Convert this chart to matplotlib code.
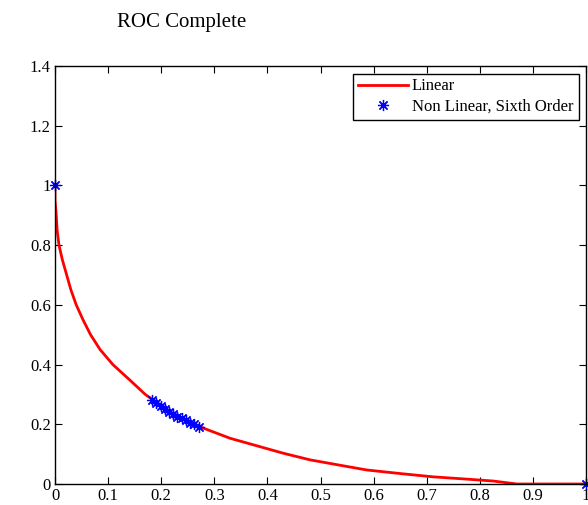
import matplotlib.pyplot as plt
import numpy as np

plt.rcParams['font.family'] = ['Liberation Serif', 'DejaVu Serif']

# Linear ROC curve
lin_fpr = [0.0, 0.0, 0.002, 0.004, 0.0075, 0.014, 0.022, 0.030, 0.040, 0.053, 0.067,
           0.085, 0.109, 0.141, 0.170, 0.220, 0.272, 0.330, 0.386, 0.430, 0.480,
           0.530, 0.587, 0.650, 0.712, 0.770, 0.825, 0.870, 1.0]
lin_tpr = [1.0, 0.95, 0.91, 0.85, 0.800, 0.750, 0.700, 0.650, 0.600, 0.549, 0.500,
           0.450, 0.400, 0.348, 0.300, 0.238, 0.192, 0.153, 0.125, 0.103, 0.081,
           0.065, 0.047, 0.035, 0.024, 0.017, 0.010, 0.0, 0.0]

# Non linear, sixth order points
nl_fpr = [0.0, 0.182, 0.190, 0.199, 0.207, 0.215, 0.223, 0.230, 0.239, 0.246,
          0.254, 0.262, 0.272, 1.0]
nl_tpr = [1.0, 0.281, 0.270, 0.261, 0.251, 0.242, 0.233, 0.225, 0.220, 0.213,
          0.205, 0.200, 0.192, 0.0]

fig = plt.figure(figsize=(5.88, 5.05), dpi=100)
ax = fig.add_axes([55 / 588, 1 - 484 / 505, 531 / 588, 418 / 505])

ax.plot(lin_fpr, lin_tpr, color='red', linewidth=2, label='Linear')
ax.plot(nl_fpr, nl_tpr, linestyle='none', marker=(8, 2, 0), color='blue',
        markersize=8, markeredgewidth=0.9, label='Non Linear, Sixth Order',
        clip_on=False)

ax.set_xlim(0, 1)
ax.set_ylim(0, 1.4)
ax.set_xticks(np.arange(0, 1.01, 0.1))
ax.set_xticklabels(['0', '0.1', '0.2', '0.3', '0.4', '0.5', '0.6', '0.7', '0.8', '0.9', '1'])
ax.set_yticks(np.arange(0, 1.41, 0.2))
ax.set_yticklabels(['0', '0.2', '0.4', '0.6', '0.8', '1', '1.2', '1.4'])
ax.tick_params(direction='in', top=True, right=True, labelsize=12, length=5, pad=3)
for s in ax.spines.values():
    s.set_linewidth(1.0)

leg = ax.legend(loc='upper right', fontsize=12, fancybox=False, edgecolor='black',
                framealpha=1, borderaxespad=0.45, handlelength=3.0, handletextpad=0.25,
                borderpad=0.3, labelspacing=0.25)
leg.get_frame().set_linewidth(1.0)

fig.text(182 / 588, 1 - 22 / 505, 'ROC Complete', ha='center', va='center', fontsize=15)

plt.savefig('out.png', dpi=100)
